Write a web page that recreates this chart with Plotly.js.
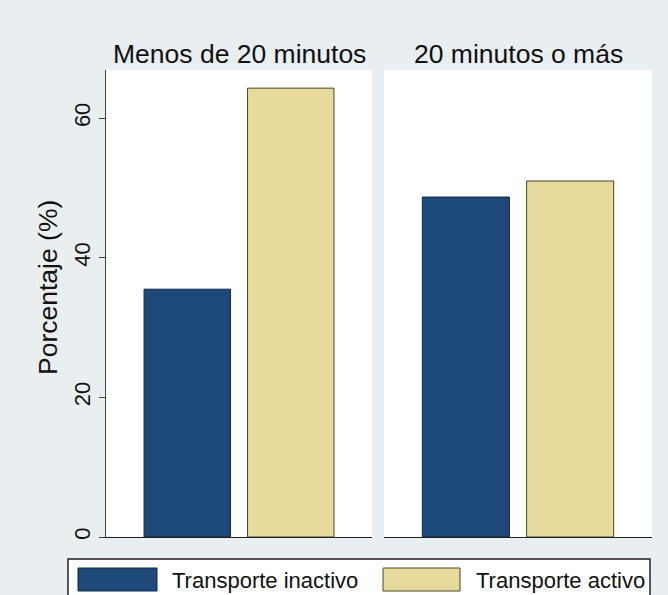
<!DOCTYPE html>
<html>
<head>
<meta charset="utf-8">
<script src="https://cdn.plot.ly/plotly-3.0.1.min.js"></script>
<style>html,body{margin:0;padding:0;background:#e9eef1;}#chart{width:668px;height:595px;}</style>
</head>
<body>
<div id="chart"></div>
<script>
// ---- data ----
const panels = ["Menos de 20 minutos", "20 minutos o más"];
const seriesNames = ["Transporte inactivo", "Transporte activo"];
const inactivo = [35.5, 48.7];
const activo = [64.3, 51.0];
const yTicks = [0, 20, 40, 60];
const yTitle = "Porcentaje (%)";

// ---- styling ----
const W = 668, H = 595;
const px = x => x / W;
const py = y => 1 - y / H;
const colors = ["#1d4a78", "#e6da9c"];
const lines = ["#0e2844", "#4d4528"];
const FONT = "Liberation Sans, Arial, sans-serif";

const seriesVals = [inactivo, activo];
const traces = [];
panels.forEach((p, i) => {
  seriesNames.forEach((s, k) => {
    traces.push({
      type: "bar",
      x: [p],
      y: [seriesVals[k][i]],
      name: s,
      xaxis: i === 0 ? "x" : "x2",
      yaxis: i === 0 ? "y" : "y2",
      marker: {color: colors[k], line: {color: lines[k], width: 1}},
      showlegend: false,
      hoverinfo: "skip"
    });
  });
});

const yr = [0, 66.9];
const layout = {
  width: W, height: H,
  margin: {l: 0, r: 0, t: 0, b: 0},
  paper_bgcolor: "#e9eef1",
  plot_bgcolor: "#ffffff",
  font: {family: FONT, color: "#111"},
  barmode: "group",
  bargap: 0.222,
  bargroupgap: 0.165,
  xaxis: {domain: [px(106), px(372)], anchor: "y", showticklabels: false, ticks: "",
          showline: true, linecolor: "#222", linewidth: 1, showgrid: false, zeroline: false},
  xaxis2: {domain: [px(384), px(652)], anchor: "y2", showticklabels: false, ticks: "",
          showline: true, linecolor: "#222", linewidth: 1, showgrid: false, zeroline: false},
  yaxis: {domain: [py(537), py(70)], range: yr, tickvals: yTicks, ticktext: yTicks.map(String),
          ticks: "outside", ticklen: 6, tickcolor: "#444", tickangle: -90,
          tickfont: {size: 22, color: "#111"}, showline: true, linecolor: "#444", linewidth: 1,
          showgrid: false, zeroline: false, anchor: "x"},
  yaxis2: {domain: [py(537), py(70)], range: yr, showticklabels: false, ticks: "",
          showline: false, showgrid: false, zeroline: false, anchor: "x2"},
  annotations: [],
  shapes: []
};

// panel titles
const centers = [239.5, 518];
panels.forEach((p, i) => {
  layout.annotations.push({text: p, xref: "paper", yref: "paper", x: px(centers[i]), y: py(54),
    xanchor: "center", yanchor: "middle", showarrow: false, font: {size: 26.5, color: "#111"}});
});
// y title
layout.annotations.push({text: yTitle, xref: "paper", yref: "paper", x: px(48), y: py(288),
  xanchor: "center", yanchor: "middle", textangle: -90, showarrow: false, font: {size: 26.5, color: "#111"}});

// custom legend
layout.shapes.push({type: "rect", xref: "paper", yref: "paper", x0: px(68), x1: px(650), y0: py(610), y1: py(559),
  fillcolor: "#ffffff", line: {color: "#222", width: 1.5}, layer: "above"});
const sw = [[78, 157], [383, 460]];
const tx = [170, 474];
seriesNames.forEach((s, k) => {
  layout.shapes.push({type: "rect", xref: "paper", yref: "paper", x0: px(sw[k][0]), x1: px(sw[k][1]),
    y0: py(591), y1: py(568), fillcolor: colors[k], line: {color: lines[k], width: 1}, layer: "above"});
  layout.annotations.push({text: s, xref: "paper", yref: "paper", x: px(tx[k]), y: py(580),
    xanchor: "left", yanchor: "middle", showarrow: false, font: {size: 22, color: "#111"}});
});

Plotly.newPlot("chart", traces, layout, {displayModeBar: false, staticPlot: true});
</script>
</body>
</html>
